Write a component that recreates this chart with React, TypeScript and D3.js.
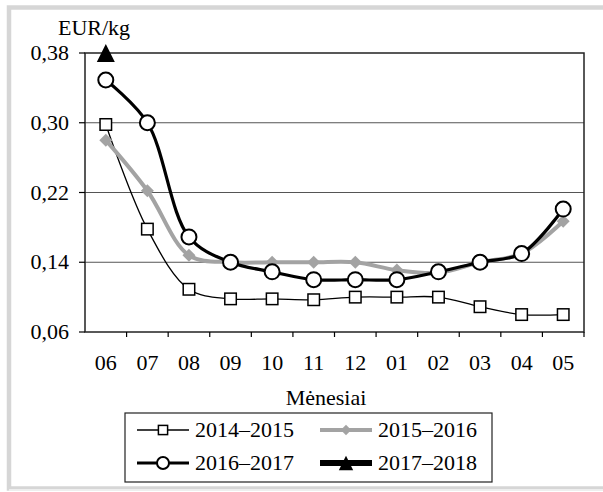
import React, { useEffect, useState } from "react";
import * as d3 from "d3";

// Mėnesiai (birželis–gegužė)
const months = ["06", "07", "08", "09", "10", "11", "12", "01", "02", "03", "04", "05"];
const yTicks = [0.06, 0.14, 0.22, 0.3, 0.38];

const s2014 = [0.298, 0.178, 0.109, 0.098, 0.098, 0.097, 0.1, 0.1, 0.1, 0.089, 0.08, 0.08];
const s2015 = [0.28, 0.222, 0.148, 0.14, 0.14, 0.14, 0.14, 0.131, 0.128, 0.14, 0.15, 0.187];
const s2016 = [0.349, 0.3, 0.169, 0.14, 0.129, 0.12, 0.12, 0.12, 0.129, 0.14, 0.15, 0.201];
const s2017: (number | null)[] = [0.38, null, null, null, null, null, null, null, null, null, null, null];

const W = 603;
const H = 492;
const GRAY = "#a3a3a3";
const FS = 22;

type Marker = "square" | "diamond" | "circle" | "triangle";
type Series = { name: string; values: (number | null)[]; color: string; width: number; marker: Marker };

const series: Series[] = [
  { name: "2014–2015", values: s2014, color: "#000", width: 1.3, marker: "square" },
  { name: "2015–2016", values: s2015, color: GRAY, width: 4, marker: "diamond" },
  { name: "2016–2017", values: s2016, color: "#000", width: 3.2, marker: "circle" },
  { name: "2017–2018", values: s2017, color: "#000", width: 6, marker: "triangle" },
];

function MarkerShape({ type, x, y, legend = false }: { type: Marker; x: number; y: number; legend?: boolean }) {
  const k = legend ? 0.8 : 1;
  if (type === "square") {
    const s = 11.5 * k;
    return <rect x={x - s / 2} y={y - s / 2} width={s} height={s} fill="#fff" stroke="#000" strokeWidth={1.5} />;
  }
  if (type === "diamond") {
    const r = 6.5 * k;
    return <path d={`M${x},${y - r}L${x + r},${y}L${x},${y + r}L${x - r},${y}Z`} fill={GRAY} />;
  }
  if (type === "circle") {
    return <circle cx={x} cy={y} r={7.5 * k} fill="#fff" stroke="#000" strokeWidth={2} />;
  }
  const s = 18 * k;
  return <path d={`M${x},${y - s / 2}L${x + s / 2},${y + s / 2}L${x - s / 2},${y + s / 2}Z`} fill="#000" />;
}

export default function App() {
  // šriftas gali būti įkeliamas vėliau – perpiešiam kai paruoštas
  const [ready, setReady] = useState(false);
  useEffect(() => {
    const fonts = (document as any).fonts;
    if (fonts && fonts.load) {
      fonts
        .load(`${FS}px "Liberation Serif"`, "0,38 Mėnesiai 2014–2015")
        .then(() => setReady(true))
        .catch(() => setReady(true));
    } else setReady(true);
  }, []);

  const margin = { left: 85, right: 584, top: 53, bottom: 332 };
  const x = d3.scaleBand<string>().domain(months).range([margin.left, margin.right]);
  const y = d3.scaleLinear().domain([0.06, 0.38]).range([margin.bottom, margin.top]);
  const cx = (m: string) => (x(m) ?? 0) + x.bandwidth() / 2;

  const line = d3
    .line<number | null>()
    .defined((d) => d != null)
    .x((_, i) => cx(months[i]))
    .y((d) => y(d as number))
    .curve(d3.curveCatmullRom.alpha(0.5));

  const fmt = (v: number) => v.toFixed(2).replace(".", ",");
  const serif = { fontFamily: `"Liberation Serif"` };

  const legendPos = [
    { lx: 137, ly: 430 },
    { lx: 320, ly: 430 },
    { lx: 137, ly: 463 },
    { lx: 320, ly: 463 },
  ];

  return (
    <svg key={ready ? "r" : "w"} width={W} height={H} style={{ position: "absolute", left: 0, top: 0 }}>
      <rect x={0} y={0} width={W} height={H} fill="#fff" />
      {/* rėmelis */}
      <rect x={9} y={7.5} width={W + 10} height={481} fill="none" stroke="#d6d6d6" strokeWidth={4.5} />
      <line x1={9} x2={W} y1={490} y2={490} stroke="#eee" strokeWidth={2} />

      {/* tinklelis */}
      {yTicks.slice(1, -1).map((t) => (
        <line key={t} x1={margin.left} x2={margin.right} y1={y(t)} y2={y(t)} stroke="#555" strokeWidth={1} />
      ))}
      <rect
        x={margin.left}
        y={margin.top}
        width={margin.right - margin.left}
        height={margin.bottom - margin.top}
        fill="none"
        stroke="#222"
        strokeWidth={1.5}
      />

      {/* y ašis */}
      {yTicks.map((t) => (
        <g key={t}>
          <line x1={margin.left - 6} x2={margin.left} y1={y(t)} y2={y(t)} stroke="#000" strokeWidth={1.2} />
          <text x={69} y={y(t) + 7} textAnchor="end" fontSize={FS} style={serif}>
            {fmt(t)}
          </text>
        </g>
      ))}
      <text x={58} y={35} fontSize={FS} style={serif}>
        EUR/kg
      </text>

      {/* x ašis */}
      {months.map((m, i) => (
        <g key={m}>
          {i > 0 && (
            <line x1={x(m)} x2={x(m)} y1={margin.bottom} y2={margin.bottom + 5} stroke="#000" strokeWidth={1.2} />
          )}
          <text x={cx(m)} y={370} textAnchor="middle" fontSize={FS} style={serif}>
            {m}
          </text>
        </g>
      ))}
      <line x1={margin.right} x2={margin.right} y1={margin.bottom} y2={margin.bottom + 5} stroke="#000" strokeWidth={1.2} />
      <text x={326} y={405} textAnchor="middle" fontSize={FS} style={serif}>
        Mėnesiai
      </text>

      {/* serijos */}
      {series.map((s) => (
        <g key={s.name}>
          <path d={line(s.values) ?? ""} fill="none" stroke={s.color} strokeWidth={s.width} />
          {s.values.map((v, i) =>
            v == null ? null : <MarkerShape key={i} type={s.marker} x={cx(months[i])} y={y(v)} />
          )}
        </g>
      ))}

      {/* legenda */}
      <rect x={125} y={413} width={367} height={69} fill="#fff" stroke="#222" strokeWidth={1.2} />
      {series.map((s, i) => {
        const { lx, ly } = legendPos[i];
        return (
          <g key={s.name}>
            <line x1={lx} x2={lx + 52} y1={ly} y2={ly} stroke={s.color} strokeWidth={s.width === 1.3 ? 1.5 : s.width} />
            <MarkerShape type={s.marker} x={lx + 26} y={ly} legend />
            <text x={lx + 58} y={ly + 7} fontSize={FS} style={serif}>
              {s.name}
            </text>
          </g>
        );
      })}
    </svg>
  );
}
